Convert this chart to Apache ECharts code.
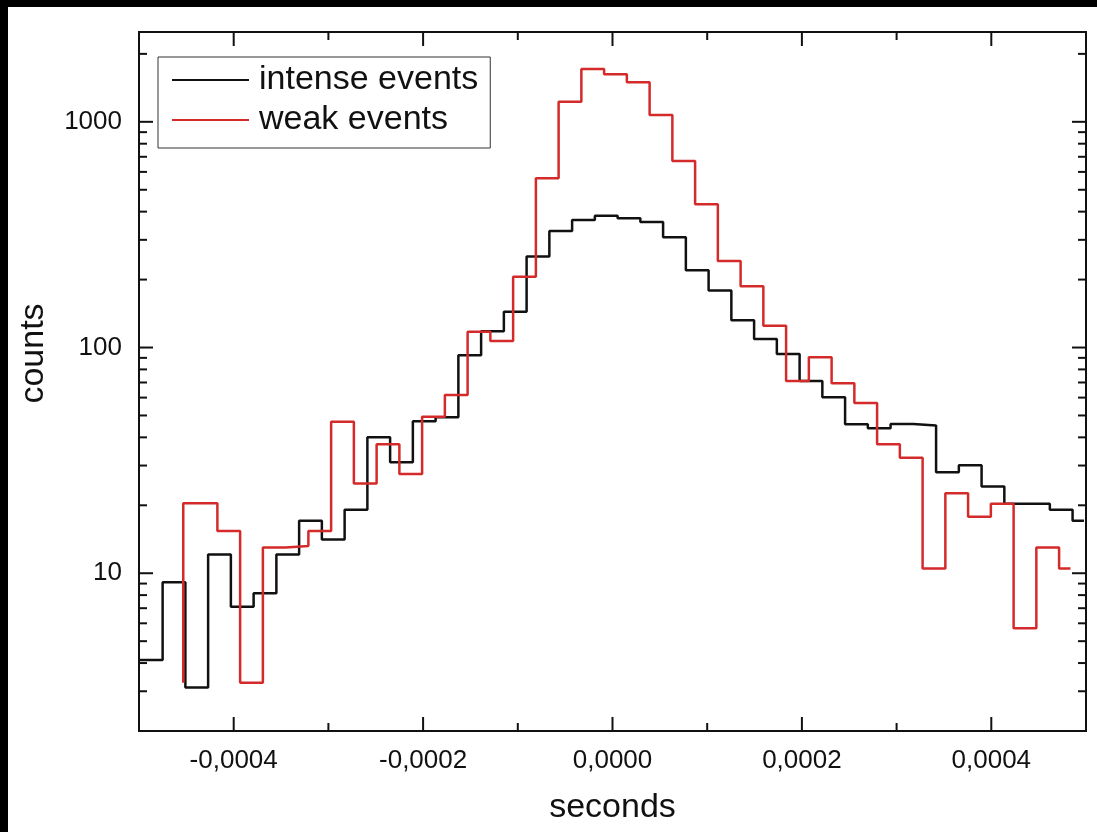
<!DOCTYPE html>
<html>
<head>
<meta charset="utf-8">
<script src="https://cdn.jsdelivr.net/npm/echarts@6/dist/echarts.min.js"></script>
<style>
  html, body { margin: 0; padding: 0; background: #000; }
  #chart { width: 1097px; height: 832px; }
</style>
</head>
<body>
<div id="chart"></div>
<script>
// ---------------- data ----------------
const seriesNames = ['intense events', 'weak events'];

// step positions in microseconds (each count starts at its edge; last edge closes the last step)
const intenseEdgesUs = [-500, -475.05, -451.03, -427.01, -402.98, -378.96, -354.94, -330.92, -306.90,
  -282.87, -258.85, -234.83, -210.81, -186.79, -162.76, -138.74, -114.72, -90.70, -66.68, -42.65,
  -18.63, 5.39, 29.41, 53.43, 77.46, 101.48, 125.50, 149.52, 173.54, 197.57, 221.59, 245.61, 269.63,
  293.65, 317.68, 341.70, 365.72, 389.74, 413.76, 437.79, 461.81, 485.83, 497.84];
const intenseCounts = [4.13, 9.12, 3.12, 12.1, 7.1, 8.15, 12.1, 17.1, 14.1, 19.1, 40.0, 31.0, 47.1,
  49.1, 92.4, 118, 144, 253, 328, 367, 384, 374, 360, 308, 220, 179, 132, 109, 93.6, 71.1, 60.2,
  45.7, 43.9, 45.8, 45.1, 28.0, 30.1, 24.2, 20.3, 20.3, 19.1, 17.1];

const weakEdgesUs = [-453.26, -453.26, -417.23, -393.21, -369.19, -345.17, -321.14, -297.12, -273.10,
  -249.08, -225.06, -201.03, -177.01, -152.99, -128.97, -104.94, -80.92, -56.90, -32.88, -8.86,
  15.17, 39.19, 63.21, 87.23, 111.25, 135.28, 159.30, 183.32, 207.34, 231.37, 255.39, 279.41,
  303.43, 327.46, 351.48, 375.50, 399.52, 423.55, 447.57, 471.59, 483.60];
const weakCounts = [3.27, 20.4, 15.4, 3.27, 13.0, 13.2, 15.4, 46.9, 25.0, 37.3, 27.5, 49.4, 61.6,
  117.6, 107, 206, 562, 1228, 1714, 1624, 1497, 1072, 670, 431, 242, 187, 125, 71.1, 90.5, 69.4,
  56.8, 37.3, 32.5, 10.5, 22.6, 17.8, 20.3, 5.7, 13.0, 10.5];

// axis ticks
const xLabelTicks = [-0.0004, -0.0002, 0, 0.0002, 0.0004];
const xMinorTicks = [-0.0003, -0.0001, 0.0001, 0.0003];
const yMajorTicks = [10, 100, 1000];
const yMinorTicks = [3, 4, 5, 6, 7, 8, 9, 20, 30, 40, 50, 60, 70, 80, 90,
  200, 300, 400, 500, 600, 700, 800, 900, 2000];

// ---------------- chart ----------------
const FONT = '"Liberation Sans", Arial, Helvetica, sans-serif';
const INK = '#111111';
const RED = '#d42a2a';

function toSteps(edgesUs, counts) {
  const pts = counts.map((c, i) => [edgesUs[i] * 1e-6, c]);
  pts.push([edgesUs[edgesUs.length - 1] * 1e-6, counts[counts.length - 1]]);
  return pts;
}

function near(list, v) {
  return list.some(t => Math.abs(t - v) <= Math.abs(t) * 1e-6 + 1e-12);
}

const MAJOR_LEN = 14, MINOR_LEN = 8;

const chart = echarts.init(document.getElementById('chart'), null, { renderer: 'canvas' });
chart.setOption({
  animation: false,
  backgroundColor: '#ffffff',
  graphic: [
    { type: 'rect', left: 0, top: 0, shape: { width: 1097, height: 7 }, style: { fill: '#000' }, z: 100 },
    { type: 'rect', left: 0, top: 0, shape: { width: 8, height: 832 }, style: { fill: '#000' }, z: 100 }
  ],
  grid: {
    left: 139, right: 11, top: 32, bottom: 101,
    show: true, borderColor: INK, borderWidth: 2, backgroundColor: 'transparent'
  },
  legend: {
    data: [
      { name: seriesNames[0], icon: 'rect', itemStyle: { color: INK } },
      { name: seriesNames[1], icon: 'rect', itemStyle: { color: RED } }
    ],
    orient: 'vertical',
    left: 158, top: 57,
    itemWidth: 77, itemHeight: 2, itemGap: 4,
    padding: [5, 12, 10, 14],
    borderColor: '#333', borderWidth: 1, borderRadius: 0,
    backgroundColor: '#fff',
    textStyle: { fontSize: 34, color: INK, fontFamily: FONT, lineHeight: 36, padding: [0, 0, 0, 5] }
  },
  xAxis: {
    type: 'value', min: -0.0005, max: 0.0005, interval: 0.0001,
    axisLine: { show: false }, axisTick: { show: false }, splitLine: { show: false },
    axisLabel: {
      fontSize: 26, color: INK, fontFamily: FONT, margin: 17,
      formatter: v => near(xLabelTicks, v) ? (Math.abs(v) < 1e-12 ? 0 : v).toFixed(4).replace('.', ',') : ''
    },
    name: 'seconds', nameLocation: 'middle', nameGap: 60,
    nameTextStyle: { fontSize: 34, color: INK, fontFamily: FONT }
  },
  yAxis: {
    type: 'log', logBase: 10, min: 2, max: 2500,
    axisLine: { show: false }, axisTick: { show: false }, splitLine: { show: false }, minorTick: { show: false },
    axisLabel: {
      fontSize: 26, color: INK, fontFamily: FONT, margin: 17,
      formatter: v => near(yMajorTicks, v) ? String(Math.round(v)) : ''
    },
    name: 'counts', nameLocation: 'middle', nameGap: 88,
    nameTextStyle: { fontSize: 34, color: INK, fontFamily: FONT, padding: [0, 0, 0, 56] }
  },
  series: [
    {
      name: seriesNames[0], type: 'line', step: 'end', symbol: 'none',
      data: toSteps(intenseEdgesUs, intenseCounts),
      lineStyle: { color: INK, width: 2.5 }, itemStyle: { color: INK },
      z: 3
    },
    {
      name: seriesNames[1], type: 'line', step: 'end', symbol: 'none',
      data: toSteps(weakEdgesUs, weakCounts),
      lineStyle: { color: RED, width: 2.5 }, itemStyle: { color: RED },
      z: 4
    },
    {
      // x ticks, inside, bottom and top
      type: 'custom', silent: true, z: 5,
      encode: { x: 0, y: 1 },
      data: xLabelTicks.map(v => [v, 10, 1]).concat(xMinorTicks.map(v => [v, 10, 0])),
      renderItem: (params, api) => {
        const cs = params.coordSys;
        const x = api.coord([api.value(0), api.value(1)])[0];
        const len = api.value(2) ? MAJOR_LEN : MINOR_LEN;
        const st = { stroke: INK, lineWidth: 2 };
        return { type: 'group', children: [
          { type: 'line', shape: { x1: x, y1: cs.y + cs.height, x2: x, y2: cs.y + cs.height - len }, style: st },
          { type: 'line', shape: { x1: x, y1: cs.y, x2: x, y2: cs.y + len }, style: st }
        ] };
      }
    },
    {
      // y ticks, inside, left and right
      type: 'custom', silent: true, z: 5,
      encode: { x: 0, y: 1 },
      data: yMajorTicks.map(v => [0, v, 1]).concat(yMinorTicks.map(v => [0, v, 0])),
      renderItem: (params, api) => {
        const cs = params.coordSys;
        const y = api.coord([api.value(0), api.value(1)])[1];
        const len = api.value(2) ? MAJOR_LEN : MINOR_LEN;
        const st = { stroke: INK, lineWidth: 2 };
        return { type: 'group', children: [
          { type: 'line', shape: { x1: cs.x, y1: y, x2: cs.x + len, y2: y }, style: st },
          { type: 'line', shape: { x1: cs.x + cs.width, y1: y, x2: cs.x + cs.width - len, y2: y }, style: st }
        ] };
      }
    }
  ]
});
</script>
</body>
</html>
